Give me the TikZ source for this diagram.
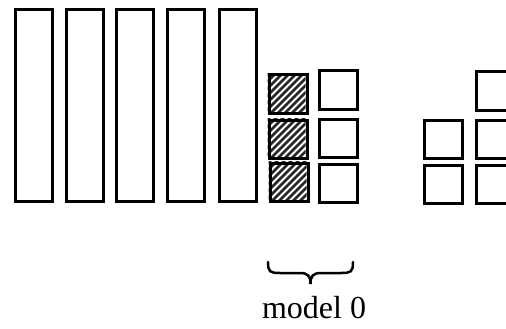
\documentclass[tikz,border=0pt]{standalone}
\usepackage{fontspec}
\setmainfont{Liberation Serif}
\begin{document}
\begin{tikzpicture}[x=1pt,y=-1pt,
  box/.style={draw=black,line width=3pt,fill=white},
  hbox/.style={draw=black,line width=3pt},
  bracestyle/.style={line width=2.5pt,line cap=round}]
\useasboundingbox (0,0) rectangle (506,329);
% tall rectangles
\foreach \i/\x in {1/13.5,2/64.5,3/114.5,4/165.5,5/217.5}{
  \node[box,inner sep=0pt,minimum width=37pt,minimum height=192pt,anchor=north west] (t\i) at (\x,8) {};
}
% hatched squares
\foreach \i/\x/\y in {1/267.5/73.5,2/267.5/118.5,3/268.5/161.5}{
  \begin{scope}
    \clip (\x,\y) rectangle ++(38,38);
    \foreach \k in {-60,-53,...,60}{
      \draw[line width=2.8pt,black!85] (\x+\k,\y+40) -- ++(42,-42);
    }
  \end{scope}
  \node[hbox,inner sep=0pt,minimum width=38pt,minimum height=38pt,anchor=north west] (h\i) at (\x,\y) {};
}
% white squares model 0
\foreach \i/\y in {1/69.5,2/117.5,3/162.5}{
  \node[box,inner sep=0pt,minimum width=38pt,minimum height=38pt,anchor=north west] (w\i) at (317.5,\y) {};
}
% right group
\foreach \i/\y in {1/118.5,2/163.5}{
  \node[box,inner sep=0pt,minimum width=38pt,minimum height=38pt,anchor=north west] (a\i) at (422.5,\y) {};
}
\foreach \i/\y in {1/70.5,2/118.5,3/163.5}{
  \node[box,inner sep=0pt,minimum width=38pt,minimum height=38pt,anchor=north west] (b\i) at (474.5,\y) {};
}
% brace
\coordinate (bl) at (268,262);
\coordinate (br) at (353,262);
\coordinate (bt) at (310.5,284);
\draw[bracestyle] (bl) .. controls (268,272) and (270,273) .. (280,273)
  -- (300,273) .. controls (308,273) and (310.5,276) .. (bt)
  .. controls (310.5,276) and (313,273) .. (321,273)
  -- (341,273) .. controls (351,273) and (353,272) .. (br);
\node[font=\fontsize{32}{37}\selectfont,inner sep=0pt,anchor=base] (lab) at (314,318) {model 0};
\end{tikzpicture}
\end{document}
